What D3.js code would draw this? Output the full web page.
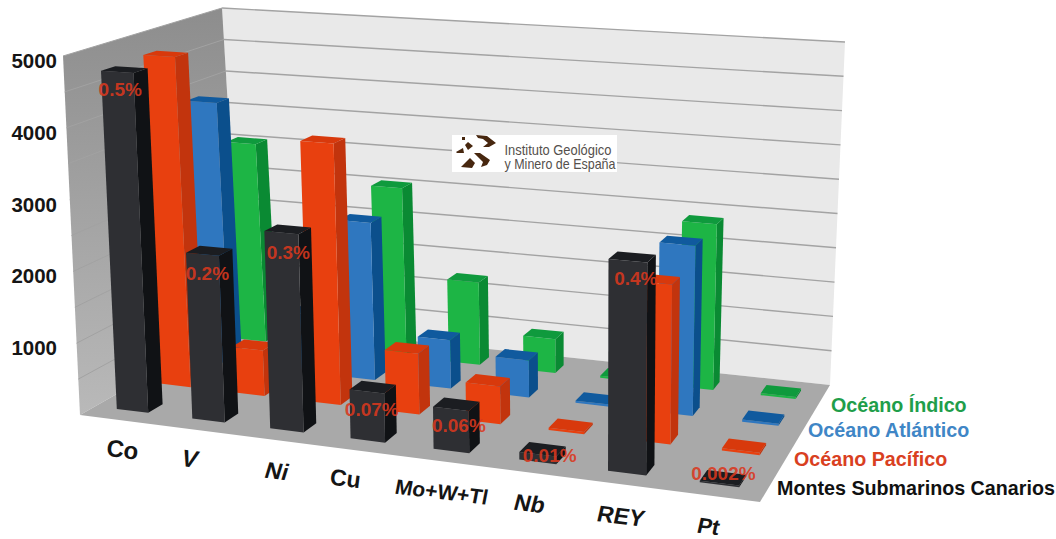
<!DOCTYPE html>
<html lang="es">
<head>
<meta charset="utf-8">
<title>Montes Submarinos Canarios</title>
<script src="https://cdn.jsdelivr.net/npm/d3@7"></script>
<style>
  html, body { margin: 0; padding: 0; background: #fff; }
  svg { display: block; }
  text { font-family: "Liberation Sans", Arial, sans-serif; font-weight: 700; }
</style>
</head>
<body>
<svg id="chart" width="1056" height="539"></svg>
<script>
// Element contents, ppm
const categories = ["Co", "V", "Ni", "Cu", "Mo+W+Tl", "Nb", "REY", "Pt"];
const seriesNames = ["Montes Submarinos Canarios", "Océano Pacífico", "Océano Atlántico", "Océano Índico"];
const montesCanarios = [4750, 2300, 2700, 660, 560, 100, 2750, 20];
const oceanoPacifico = [4780, 650, 3700, 850, 520, 30, 2150, 30];
const oceanoAtlantico = [3900, 850, 2300, 700, 530, 30, 2380, 30];
const oceanoIndico = [3050, null, 2550, 1230, 500, 30, 2400, 30];
const percentLabels = ["0.5%", "0.2%", "0.3%", "0.07%", "0.06%", "0.01%", "0.4%", "0.002%"];
const axisTicks = [1000, 2000, 3000, 4000, 5000];
const gridTicks = d3.range(500, 5001, 500);

const seriesValues = [montesCanarios, oceanoPacifico, oceanoAtlantico, oceanoIndico];

// Face colours per series: front, side, top
const palette = [
  { front: "#2e2f33", side: "#101215", top: "#1b1d21", text: "#111111" },
  { front: "#e8400f", side: "#c2340d", top: "#d8390c", text: "#d9401f" },
  { front: "#2f77bf", side: "#0b4f8c", top: "#105a9e", text: "#3f86c6" },
  { front: "#1db545", side: "#0a8a33", top: "#0f9a3d", text: "#1f9e4a" }
];

// Box corners on screen: the floor plane and the plane at the top of the value axis
const floorQuad = [[80, 415], [760, 502], [830, 385], [241, 323]];
const ceilingQuad = [[63, 56], [765, 102], [845, 42], [222, 8]];

function squareToQuad(q) {
  const [[x0, y0], [x1, y1], [x2, y2], [x3, y3]] = q;
  const sx = x0 - x1 + x2 - x3, sy = y0 - y1 + y2 - y3;
  const dx1 = x1 - x2, dx2 = x3 - x2, dy1 = y1 - y2, dy2 = y3 - y2;
  const den = dx1 * dy2 - dx2 * dy1;
  const g = (sx * dy2 - dx2 * sy) / den;
  const h = (dx1 * sy - sx * dy1) / den;
  const a = x1 - x0 + g * x1, b = x3 - x0 + h * x3;
  const d = y1 - y0 + g * y1, e = y3 - y0 + h * y3;
  return (u, v) => {
    const w = g * u + h * v + 1;
    return [(a * u + b * v + x0) / w, (d * u + e * v + y0) / w];
  };
}

const floorMap = squareToQuad(floorQuad);
const ceilingMap = squareToQuad(ceilingQuad);

const heightScale = d3.scaleLinear().domain([0, 5000]).range([0, 1]);
const widthScale = d3.scaleBand().domain(categories).range([0, 1]).paddingInner(0.58).paddingOuter(0.29);
const depthScale = d3.scaleBand().domain(seriesNames).range([0, 1]).paddingInner(0.67).paddingOuter(0.33);

// u across the back wall, v into the depth of the chart, value up the axis
function project(u, v, value) {
  const f = floorMap(u, v), c = ceilingMap(u, v), t = heightScale(value);
  return [f[0] + (c[0] - f[0]) * t, f[1] + (c[1] - f[1]) * t];
}

const line = d3.line();
const poly = pts => line(pts) + "Z";
const svg = d3.select("#chart");

const defs = svg.append("defs");
const wallGrad = defs.append("linearGradient").attr("id", "leftWall")
  .attr("x1", 0).attr("y1", 0).attr("x2", 0).attr("y2", 1);
wallGrad.append("stop").attr("offset", 0).attr("stop-color", "#8d8d8d");
wallGrad.append("stop").attr("offset", 1).attr("stop-color", "#b9b9b9");

// Walls and floor
const box = svg.append("g");
box.append("path").attr("d", poly([project(0, 1, 0), project(1, 1, 0), project(1, 1, 5000), project(0, 1, 5000)]))
  .attr("fill", "#e9e9e9");
box.append("path").attr("d", poly([project(0, 0, 0), project(0, 1, 0), project(0, 1, 5000), project(0, 0, 5000)]))
  .attr("fill", "url(#leftWall)");
box.append("path").attr("d", poly([project(0, 0, 0), project(1, 0, 0), project(1, 1, 0), project(0, 1, 0)]))
  .attr("fill", "#a9a9a9");

// Gridlines on both walls
box.selectAll("path.back-grid").data(gridTicks).join("path").attr("class", "back-grid")
  .attr("d", d => line([project(0, 1, d), project(1, 1, d)]))
  .attr("fill", "none").attr("stroke", "#a3a3a3").attr("stroke-width", 1.4);
box.selectAll("path.side-grid").data(gridTicks).join("path").attr("class", "side-grid")
  .attr("d", d => line([project(0, 0, d), project(0, 1, d)]))
  .attr("fill", "none").attr("stroke", "#a2a2a2").attr("stroke-width", 1);

// Bars: rear series first, so nearer bars cover them
const bars = [];
seriesNames.forEach((name, s) => {
  categories.forEach((cat, c) => {
    if (seriesValues[s][c] !== null) bars.push({ name, cat, s, value: seriesValues[s][c] });
  });
});
bars.sort((a, b) => b.s - a.s);

const barGroups = svg.append("g").selectAll("g").data(bars).join("g");
barGroups.each(function (d) {
  const u0 = widthScale(d.cat), u1 = u0 + widthScale.bandwidth();
  const v0 = depthScale(d.name), v1 = v0 + depthScale.bandwidth();
  const g = d3.select(this), col = palette[d.s];
  g.append("path").attr("fill", col.side)
    .attr("d", poly([project(u1, v0, 0), project(u1, v1, 0), project(u1, v1, d.value), project(u1, v0, d.value)]));
  g.append("path").attr("fill", col.front)
    .attr("d", poly([project(u0, v0, 0), project(u1, v0, 0), project(u1, v0, d.value), project(u0, v0, d.value)]));
  g.append("path").attr("fill", col.top)
    .attr("d", poly([project(u0, v0, d.value), project(u1, v0, d.value), project(u1, v1, d.value), project(u0, v1, d.value)]));
});

// Value axis labels beside the left wall
svg.append("g").selectAll("text").data(axisTicks).join("text")
  .attr("x", 57)
  .attr("y", d => project(0, 0, d)[1] + 12)
  .attr("text-anchor", "end")
  .attr("font-size", 20.5)
  .attr("fill", "#151515")
  .text(d => d);

// Category labels follow the front edge of the floor
const labelNudge = [[4, 38], [-7, 37], [1, 39], [-11, 36], [0, 38], [0, 39], [1, 40], [-5, 38]];
const labelSize = [24, 24, 23, 23, 21, 23, 23, 22];
const labelSkew = [0, -10, -10, 0, -4, -8, -6, -6];
svg.append("g").selectAll("text").data(categories).join("text")
  .attr("transform", (d, i) => {
    const p = project(widthScale(d) + widthScale.bandwidth() / 2, 0, 0);
    return `translate(${p[0] + labelNudge[i][0]},${p[1] + labelNudge[i][1]}) rotate(7) skewX(${labelSkew[i]})`;
  })
  .attr("text-anchor", "middle")
  .attr("font-size", (d, i) => labelSize[i])
  .attr("fill", "#151515")
  .text(d => d);

// Percentage notes on the Canary seamount bars
const percentNudge = [[3, 24], [5, 26], [7, 26], [5, 24], [8, 23], [12, 8], [8, 24], [4, -3]];
svg.append("g").selectAll("text").data(categories).join("text")
  .attr("transform", (d, i) => {
    const p = project(widthScale(d) + widthScale.bandwidth() / 2, depthScale(seriesNames[0]), montesCanarios[i]);
    return `translate(${p[0] + percentNudge[i][0]},${p[1] + percentNudge[i][1]})`;
  })
  .attr("text-anchor", "middle")
  .attr("font-size", 19)
  .attr("fill", "#d9381e")
  .attr("fill-opacity", 0.9)
  .text((d, i) => percentLabels[i]);

// Series key, rear series on top
const legendAnchors = [[777, 495], [794, 466], [808, 436.5], [831, 412]];
svg.append("g").selectAll("text").data(seriesNames).join("text")
  .attr("x", (d, i) => legendAnchors[i][0])
  .attr("y", (d, i) => legendAnchors[i][1])
  .attr("font-size", 19.7)
  .attr("fill", (d, i) => palette[i].text)
  .text(d => d);

// Institute logo panel on the back wall
const logo = svg.append("g");
logo.append("rect").attr("x", 452).attr("y", 135).attr("width", 165).attr("height", 37).attr("fill", "#fff");
const logoShapes = [
  [[476, 135], [487, 136], [496, 143], [489, 147], [483, 147], [488, 143], [483, 139], [478, 138]],
  [[474, 153], [480, 153], [490, 160], [487, 165], [481, 167], [483, 162]],
  [[461, 167], [470, 158], [475, 163], [472, 168]],
  [[465, 145], [468, 142], [473, 146], [468, 150]],
  [[456, 152], [463, 148], [464, 153], [457, 153]],
  [[462, 137], [465, 137], [465, 140], [462, 140]]
];
logo.selectAll("path").data(logoShapes).join("path").attr("d", poly).attr("fill", "#47270f");
logo.selectAll("text").data(["Instituto Geológico", "y Minero de España"]).join("text")
  .attr("x", 504.5)
  .attr("y", (d, i) => 155 + i * 14)
  .attr("font-size", 14.5)
  .attr("textLength", (d, i) => i ? 111 : 107)
  .attr("lengthAdjust", "spacingAndGlyphs")
  .attr("fill", "#55504c")
  .style("font-weight", 400)
  .text(d => d);
</script>
</body>
</html>
